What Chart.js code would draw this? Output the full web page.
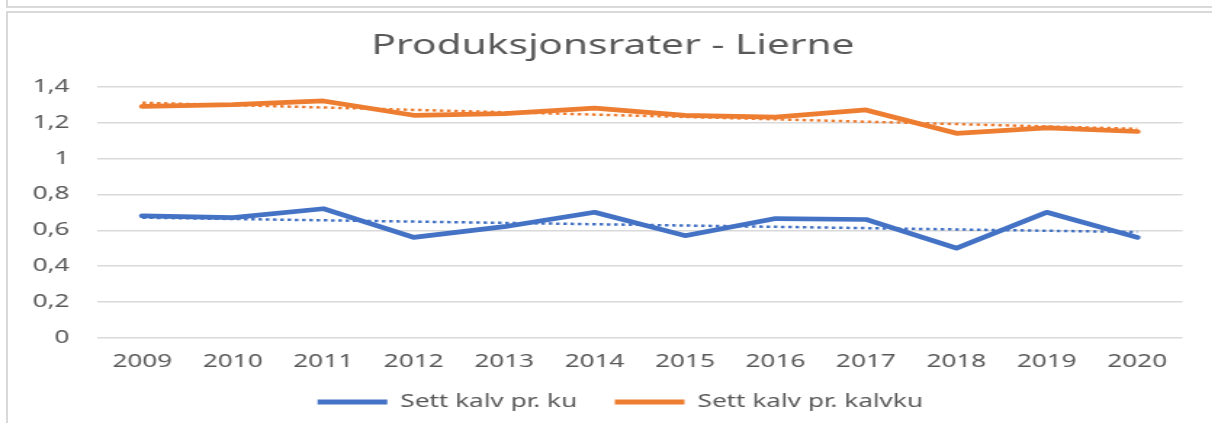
<!DOCTYPE html>
<html>
<head>
<meta charset="utf-8">
<script src="https://cdn.jsdelivr.net/npm/chart.js@4.4.1/dist/chart.umd.min.js"></script>
<style>
  html, body { margin: 0; padding: 0; background: #ffffff; overflow: hidden; }
  body { width: 1212px; height: 423px; position: relative; }
  .topbox { position: absolute; left: 6px; top: -10px; width: 1300px; height: 14px; border: 2px solid #d9d9d9; }
  .frame { position: absolute; left: 6px; top: 11px; width: 1300px; height: 500px; border: 2px solid #d9d9d9; }
  .wrap { position: absolute; left: 0; top: 0; width: 835.86px; height: 423px; transform: scaleX(1.45); transform-origin: 0 0; }
</style>
</head>
<body>
<div class="topbox"></div>
<div class="frame"></div>
<div class="wrap"><canvas id="c"></canvas></div>
<script>
const years = ['2009','2010','2011','2012','2013','2014','2015','2016','2017','2018','2019','2020'];
const kalvPrKu = [0.68, 0.67, 0.72, 0.56, 0.62, 0.70, 0.57, 0.665, 0.66, 0.50, 0.70, 0.56];
const kalvPrKalvku = [1.29, 1.30, 1.32, 1.24, 1.25, 1.28, 1.24, 1.23, 1.27, 1.14, 1.17, 1.15];
const trendKu = [0.67, null, null, null, null, null, null, null, null, null, null, 0.59];
const trendKalvku = [1.31, null, null, null, null, null, null, null, null, null, null, 1.165];
const yTickLabels = ['0', '0,2', '0,4', '0,6', '0,8', '1', '1,2', '1,4'];
const seriesNames = ['Sett kalv pr. ku', 'Sett kalv pr. kalvku'];
const titleText = 'Produksjonsrater - Lierne';

const BLUE = '#4472C4';
const ORANGE = '#ED7D31';
const TEXT = '#595959';
const FONT = "'Noto Sans', 'Open Sans', sans-serif";

// shift the centred title and legend a little to the right, as in the reference
const shiftBoxes = {
  id: 'shiftBoxes',
  afterLayout(chart) {
    const moves = [[chart.legend, 20], [chart.titleBlock, 15]];
    moves.forEach(([box, d]) => { if (box) { box.left += d; box.right += d; } });
  }
};

new Chart(document.getElementById('c'), {
  type: 'line',
  data: {
    labels: years,
    datasets: [
      { label: seriesNames[0], data: kalvPrKu, borderColor: BLUE, backgroundColor: BLUE,
        borderWidth: 4.7, pointRadius: 0, tension: 0, borderJoinStyle: 'round', borderCapStyle: 'round', order: 3 },
      { label: seriesNames[1], data: kalvPrKalvku, borderColor: ORANGE, backgroundColor: ORANGE,
        borderWidth: 4.7, pointRadius: 0, tension: 0, borderJoinStyle: 'round', borderCapStyle: 'round', order: 2 },
      { label: 'trend ku', data: trendKu, borderColor: BLUE, borderWidth: 2.5, borderDash: [2.5, 2.5],
        pointRadius: 0, spanGaps: true, tension: 0, order: 1 },
      { label: 'trend kalvku', data: trendKalvku, borderColor: ORANGE, borderWidth: 2.5, borderDash: [2.5, 2.5],
        pointRadius: 0, spanGaps: true, tension: 0, order: 0 }
    ]
  },
  plugins: [shiftBoxes],
  options: {
    responsive: true,
    maintainAspectRatio: false,
    animation: false,
    layout: { padding: { left: 0, right: 21.4, top: 20, bottom: 2 } },
    plugins: {
      tooltip: { enabled: false },
      title: {
        display: true, text: titleText, color: TEXT,
        font: { family: FONT, size: 28, weight: 'normal', lineHeight: 1.2 },
        padding: { top: 9, bottom: 24 }
      },
      legend: {
        position: 'bottom',
        labels: {
          color: TEXT,
          font: { family: FONT, size: 18 },
          boxWidth: 48, boxHeight: 5, padding: 26,
          filter: (item) => item.datasetIndex < 2,
          sort: (a, b) => a.datasetIndex - b.datasetIndex,
          generateLabels: (chart) => Chart.defaults.plugins.legend.labels.generateLabels(chart).map(it => {
            it.fillStyle = it.strokeStyle; it.lineWidth = 0; it.lineDash = []; return it;
          })
        }
      }
    },
    scales: {
      x: {
        offset: true,
        grid: { display: false, drawTicks: false, offset: true },
        border: { display: false },
        ticks: { color: TEXT, font: { family: FONT, size: 18 }, padding: 13, maxRotation: 0, autoSkip: false },
        afterFit: (s) => { s.height = 29; }
      },
      y: {
        min: 0, max: 1.4,
        grid: { color: '#d9d9d9', lineWidth: 1.5, drawTicks: false },
        border: { display: false },
        ticks: { stepSize: 0.2, color: TEXT, font: { family: FONT, size: 18 }, padding: 19,
          callback: (v, i) => yTickLabels[i] },
        afterFit: (s) => { s.width = 66.9; }
      }
    }
  }
});
</script>
</body>
</html>
